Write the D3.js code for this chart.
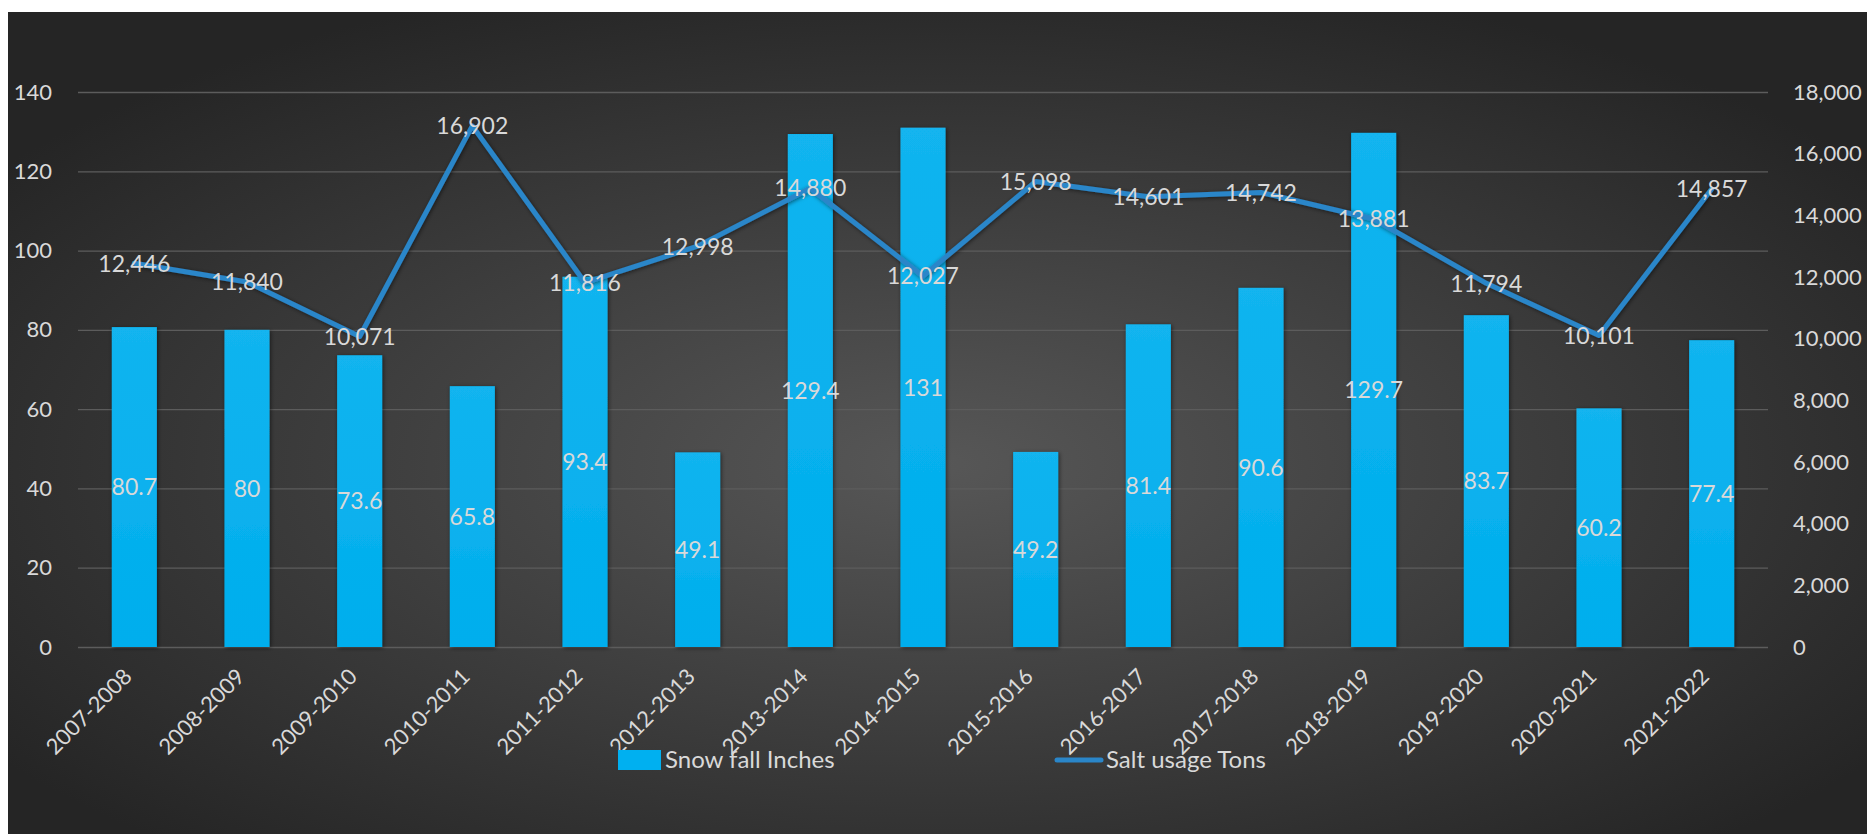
<!DOCTYPE html>
<html><head><meta charset="utf-8">
<script src="https://cdn.jsdelivr.net/npm/d3@7"></script>
<style>
html,body{margin:0;padding:0;background:#fff;}
svg{display:block;}
text{font-family:Lato,"Open Sans",sans-serif;}
</style></head>
<body>
<svg id="chart" width="1867" height="834"></svg>
<script>
const categories = ["2007-2008","2008-2009","2009-2010","2010-2011","2011-2012","2012-2013","2013-2014","2014-2015","2015-2016","2016-2017","2017-2018","2018-2019","2019-2020","2020-2021","2021-2022"];
const snowfall = [80.7, 80, 73.6, 65.8, 93.4, 49.1, 129.4, 131, 49.2, 81.4, 90.6, 129.7, 83.7, 60.2, 77.4];
const saltUsage = [12446, 11840, 10071, 16902, 11816, 12998, 14880, 12027, 15098, 14601, 14742, 13881, 11794, 10101, 14857];
const leftTicks = [0, 20, 40, 60, 80, 100, 120, 140];
const rightTicks = [0, 2000, 4000, 6000, 8000, 10000, 12000, 14000, 16000, 18000];
const seriesNames = ["Snow fall Inches", "Salt usage Tons"];

const svg = d3.select("#chart");
const W = 1867, H = 834;
const plot = {left: 78, right: 1768, top: 92, bottom: 647};
const textColor = "#d9d9d9";
const barColor = "#00b0f0";
const lineColor = "#2a86c9";

const defs = svg.append("defs");
const bg = defs.append("radialGradient").attr("id","bg").attr("cx","50%").attr("cy","55%").attr("r","62%");
bg.append("stop").attr("offset","0%").attr("stop-color","#575757");
bg.append("stop").attr("offset","100%").attr("stop-color","#252525");
const bgr = defs.append("linearGradient").attr("id","barg").attr("x1",0).attr("y1",0).attr("x2",0).attr("y2",1);
bgr.append("stop").attr("offset","0%").attr("stop-color","#12b4ef");
bgr.append("stop").attr("offset","100%").attr("stop-color","#00aeed");
const sh = defs.append("filter").attr("id","shadow").attr("x","-20%").attr("y","-20%").attr("width","140%").attr("height","140%");
sh.append("feDropShadow").attr("dx",1).attr("dy",1).attr("stdDeviation",2).attr("flood-color","#000").attr("flood-opacity",0.55);

svg.append("rect").attr("x",8).attr("y",12).attr("width",W-8).attr("height",H-12).attr("fill","url(#bg)");

const x = d3.scaleBand().domain(categories).range([plot.left, plot.right]).paddingInner(0.6).paddingOuter(0.3);
const yL = d3.scaleLinear().domain([0,140]).range([plot.bottom, plot.top]);
const yR = d3.scaleLinear().domain([0,18000]).range([plot.bottom, plot.top]);

// gridlines
const leftAxis = d3.axisLeft(yL).tickValues(leftTicks).tickSize(-(plot.right-plot.left)).tickPadding(26).tickFormat(d3.format("d"));
const gL = svg.append("g").attr("transform",`translate(${plot.left},0)`).call(leftAxis);
gL.select(".domain").remove();
gL.selectAll(".tick line").attr("stroke","#5c5c5c").attr("stroke-width",1.3);
gL.selectAll(".tick text").attr("fill",textColor).attr("font-size","22px");

const rightAxis = d3.axisRight(yR).tickValues(rightTicks).tickSize(0).tickPadding(25).tickFormat(d3.format(","));
const gR = svg.append("g").attr("transform",`translate(${plot.right},0)`).call(rightAxis);
gR.select(".domain").remove();
gR.selectAll(".tick text").attr("fill",textColor).attr("font-size","22px");

// bars
svg.append("g").selectAll("rect").data(snowfall).join("rect")
  .attr("x",(d,i)=>x(categories[i]))
  .attr("y",d=>yL(d))
  .attr("width",x.bandwidth())
  .attr("height",d=>yL(0)-yL(d))
  .attr("fill","url(#barg)")
  .attr("filter","url(#shadow)");

// bar labels
svg.append("g").selectAll("text").data(snowfall).join("text")
  .attr("x",(d,i)=>x(categories[i])+x.bandwidth()/2)
  .attr("y",d=>(yL(d)+yL(0))/2)
  .attr("dy","0.36em")
  .attr("text-anchor","middle")
  .attr("fill",textColor).attr("font-size","23px")
  .text(d=>d3.format("")(d));

// line
const line = d3.line().x((d,i)=>x(categories[i])+x.bandwidth()/2).y(d=>yR(d));
svg.append("path").datum(saltUsage).attr("d",line).attr("fill","none")
  .attr("stroke",lineColor).attr("stroke-width",5).attr("stroke-linejoin","round").attr("stroke-linecap","round")
  .attr("filter","url(#shadow)");

// line labels
svg.append("g").selectAll("text").data(saltUsage).join("text")
  .attr("x",(d,i)=>x(categories[i])+x.bandwidth()/2)
  .attr("y",d=>yR(d))
  .attr("dy","0.36em")
  .attr("text-anchor","middle")
  .attr("fill",textColor).attr("font-size","23px")
  .text(d=>d3.format(",")(d));

// category labels
const xAxis = d3.axisBottom(x).tickSize(0).tickPadding(0);
const gX = svg.append("g").attr("transform",`translate(0,${plot.bottom})`).call(xAxis);
gX.select(".domain").remove();
gX.selectAll(".tick text")
  .attr("fill",textColor).attr("font-size","22px")
  .attr("text-anchor","end")
  .attr("dy",null).attr("y",null)
  .attr("transform","translate(-5,27) rotate(-45)")
  .attr("dominant-baseline","middle");

// legend
const lg = svg.append("g");
lg.append("rect").attr("x",618).attr("y",750).attr("width",43).attr("height",20).attr("fill",barColor);
lg.append("text").attr("x",665).attr("y",768).attr("fill",textColor).attr("font-size","24px").text(seriesNames[0]);
lg.append("line").attr("x1",1057).attr("x2",1101).attr("y1",760).attr("y2",760).attr("stroke",lineColor).attr("stroke-width",5).attr("stroke-linecap","round");
lg.append("text").attr("x",1106).attr("y",768).attr("fill",textColor).attr("font-size","24px").text(seriesNames[1]);
</script>
</body></html>
